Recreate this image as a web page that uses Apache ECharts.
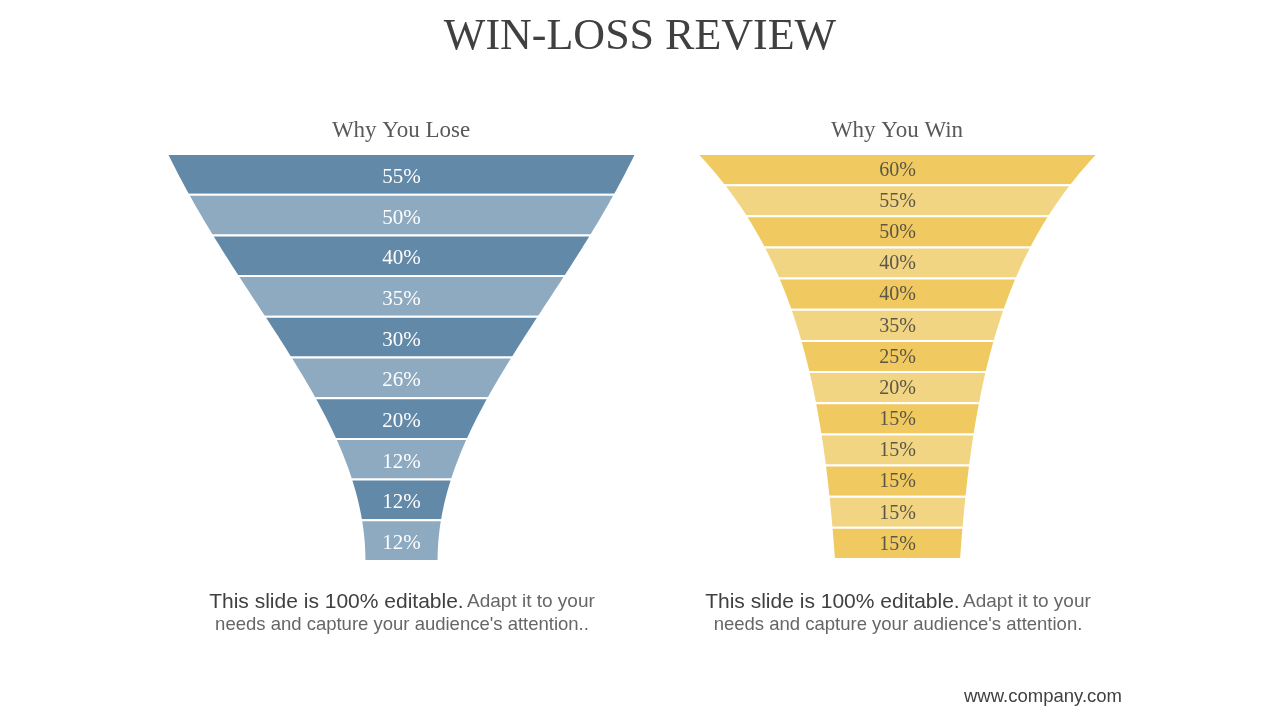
<!DOCTYPE html>
<html>
<head>
<meta charset="UTF-8">
<title>Win-Loss Review</title>
<script src="https://cdn.jsdelivr.net/npm/echarts/dist/echarts.min.js"></script>
<style>
  html, body { margin: 0; padding: 0; background: #fff; }
  #main { width: 1280px; height: 720px; }
</style>
</head>
<body>
<div id="main"></div>
<script>
// values shown in each band, top to bottom
var loseValues = [55, 50, 40, 35, 30, 26, 20, 12, 12, 12];
var winValues = [60, 55, 50, 40, 40, 35, 25, 20, 15, 15, 15, 15, 15];

// funnel outline (half width, 1 = full top width) as a function of depth t in [0,1]
function loseShape(t) {
    var f = 0.5 * (1 - t) * (1 - t) + 0.25 * (1 + Math.cos(Math.PI * t));
    return 0.158 + 0.842 * f;
}
function winShape(t) {
    var a = 2.6;
    var f = (Math.exp(-a * t) - Math.exp(-a)) / (1 - Math.exp(-a));
    return 0.317 + 0.683 * f;
}

function bandRenderer(shape, count, dark, light, labelColor, fontSize, labelDy) {
    return function (params, api) {
        var idx = api.value(0);
        var c = api.coord([0, idx]);
        var h = api.size([0, 1])[1];
        var top = c[1] - h / 2;
        var steps = 8, right = [], left = [];
        for (var k = 0; k <= steps; k++) {
            var t = (idx + k / steps) / count;
            var y = top + h * k / steps;
            right.push([api.coord([shape(t), idx])[0], y]);
            left.unshift([api.coord([-shape(t), idx])[0], y]);
        }
        return {
            type: 'group',
            children: [
                {
                    type: 'polygon',
                    shape: { points: right.concat(left) },
                    style: { fill: idx % 2 ? light : dark, stroke: '#fff', lineWidth: 2 }
                },
                {
                    type: 'text',
                    x: c[0],
                    y: c[1] + labelDy,
                    style: {
                        text: api.value(1) + '%',
                        fill: labelColor,
                        font: fontSize + 'px "Liberation Serif", serif',
                        align: 'center',
                        verticalAlign: 'middle'
                    }
                }
            ]
        };
    };
}

function rows(values) {
    return values.map(function (v, i) { return [i, v]; });
}
function cats(values) {
    return values.map(function (v, i) { return String(i); });
}

var chart = echarts.init(document.getElementById('main'));

var noteRich = {
    a: { fontFamily: 'Liberation Sans', fontSize: 21, fill: '#404040' },
    b: { fontFamily: 'Liberation Sans', fontSize: 19, fill: '#666666' }
};

var option = {
    backgroundColor: '#fff',
    animation: false,
    grid: [
        { left: 167, top: 154, width: 469, height: 407 },
        { left: 697, top: 154, width: 401, height: 405 }
    ],
    xAxis: [
        { gridIndex: 0, type: 'value', min: -1, max: 1, show: false },
        { gridIndex: 1, type: 'value', min: -1, max: 1, show: false }
    ],
    yAxis: [
        { gridIndex: 0, type: 'category', data: cats(loseValues), inverse: true, show: false },
        { gridIndex: 1, type: 'category', data: cats(winValues), inverse: true, show: false }
    ],
    series: [
        {
            name: 'Why You Lose',
            type: 'custom',
            xAxisIndex: 0,
            yAxisIndex: 0,
            encode: { y: 0, x: 1 },
            renderItem: bandRenderer(loseShape, loseValues.length, '#6389a8', '#8eaac1', '#ffffff', 21, 3),
            data: rows(loseValues)
        },
        {
            name: 'Why You Win',
            type: 'custom',
            xAxisIndex: 1,
            yAxisIndex: 1,
            encode: { y: 0, x: 1 },
            renderItem: bandRenderer(winShape, winValues.length, '#f0c960', '#f2d582', '#5c5647', 20, 1),
            data: rows(winValues)
        }
    ],
    graphic: [
        {
            type: 'text', x: 640, y: 37,
            style: { text: 'WIN-LOSS REVIEW', fill: '#404040', font: '44px "Liberation Serif", serif', align: 'center', verticalAlign: 'middle' }
        },
        {
            type: 'text', x: 401, y: 131,
            style: { text: 'Why You Lose', fill: '#595959', font: '23px "Liberation Serif", serif', align: 'center', verticalAlign: 'middle' }
        },
        {
            type: 'text', x: 897, y: 131,
            style: { text: 'Why You Win', fill: '#595959', font: '23px "Liberation Serif", serif', align: 'center', verticalAlign: 'middle' }
        },
        {
            type: 'text', x: 402, y: 602,
            style: {
                text: '{a|This slide is 100% editable.} {b|Adapt it to your}',
                rich: noteRich,
                align: 'center', verticalAlign: 'middle'
            }
        },
        {
            type: 'text', x: 402, y: 625,
            style: { text: "needs and capture your audience's attention..", fill: '#666666', font: '18.5px "Liberation Sans", sans-serif', align: 'center', verticalAlign: 'middle' }
        },
        {
            type: 'text', x: 898, y: 602,
            style: {
                text: '{a|This slide is 100% editable.} {b|Adapt it to your}',
                rich: noteRich,
                align: 'center', verticalAlign: 'middle'
            }
        },
        {
            type: 'text', x: 898, y: 625,
            style: { text: "needs and capture your audience's attention.", fill: '#666666', font: '18.5px "Liberation Sans", sans-serif', align: 'center', verticalAlign: 'middle' }
        },
        {
            type: 'text', x: 1043, y: 697,
            style: { text: 'www.company.com', fill: '#404040', font: '18.5px "Liberation Sans", sans-serif', align: 'center', verticalAlign: 'middle' }
        }
    ]
};

chart.setOption(option);
</script>
</body>
</html>
